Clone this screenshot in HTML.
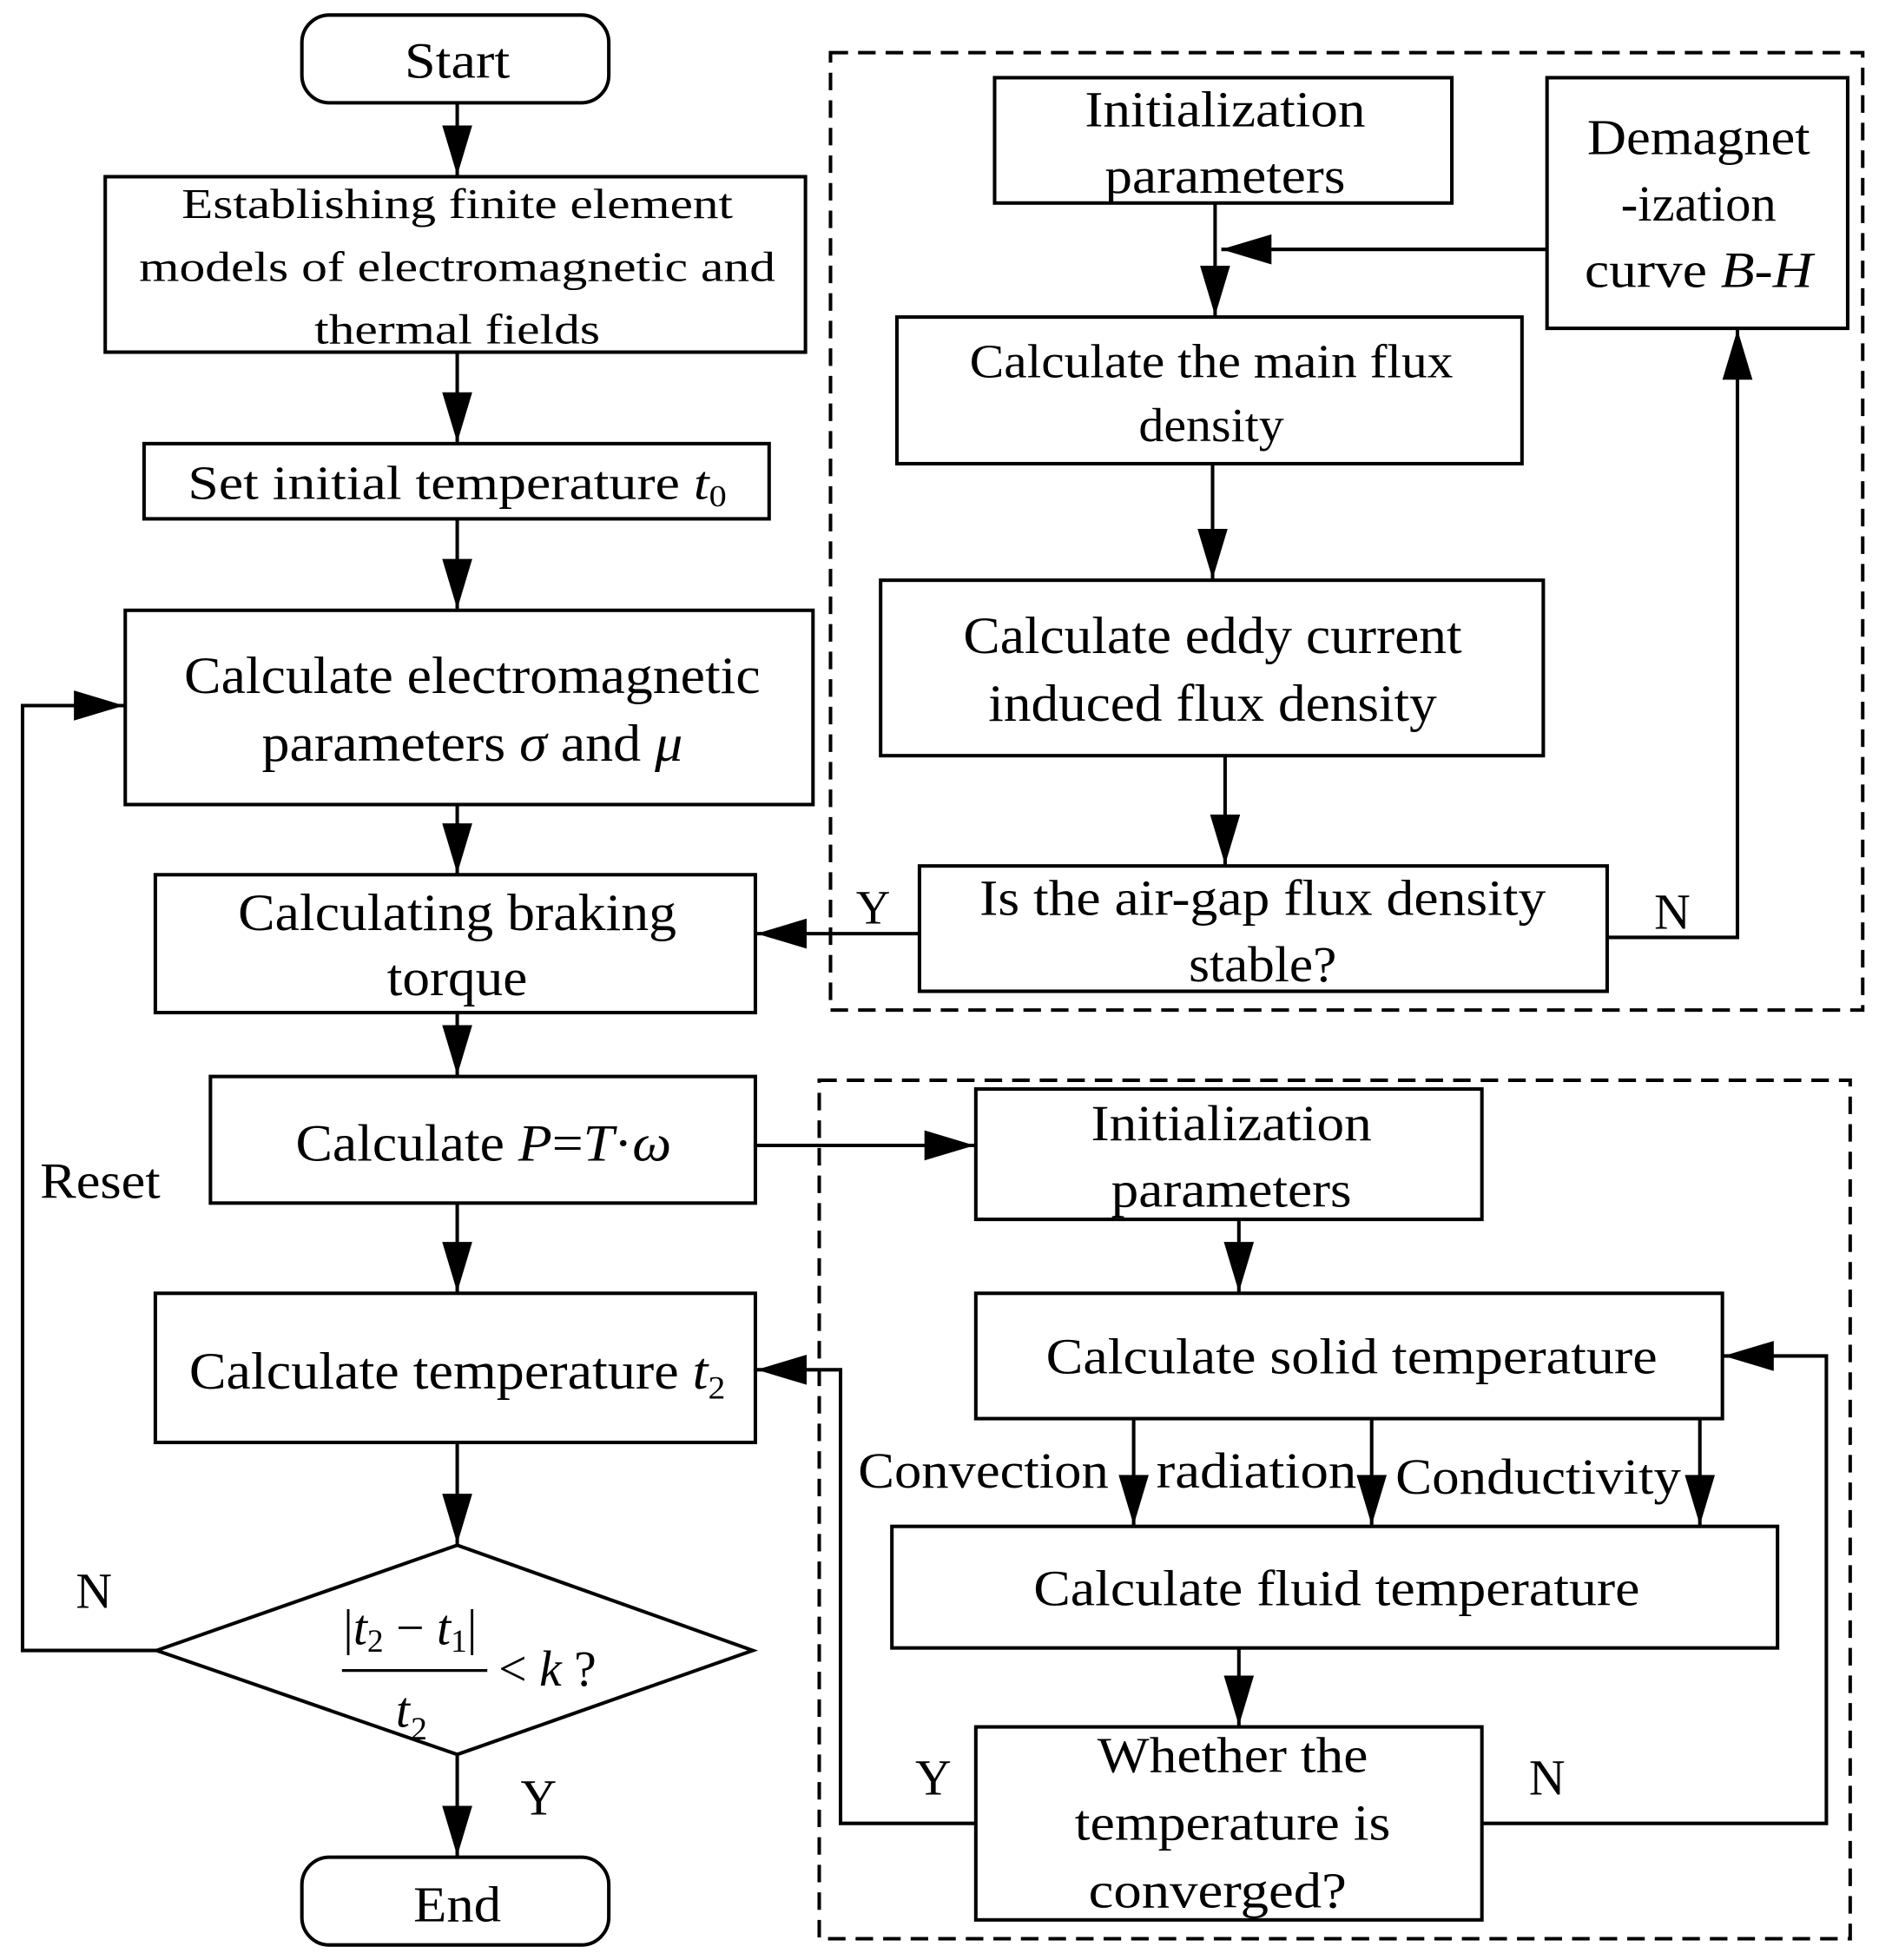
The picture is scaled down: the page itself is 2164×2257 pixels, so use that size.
<!DOCTYPE html>
<html><head><meta charset="utf-8"><style>html,body{margin:0;padding:0;background:#fff}svg{display:block}</style></head>
<body>
<svg width="2164" height="2257" viewBox="0 0 1500 1564" preserveAspectRatio="none" xmlns="http://www.w3.org/2000/svg" font-family="Liberation Serif, serif" fill="#000">
<defs>
<marker id="a" markerUnits="userSpaceOnUse" markerWidth="44" markerHeight="26" refX="40" refY="12" orient="auto"><path d="M0,0 L40,12 L0,24 z" fill="#000"/></marker>
</defs>
<g fill="none" stroke="#000" stroke-width="2.8">
<rect x="241" y="12" width="245" height="70" rx="22"/>
<rect x="84" y="141" width="559" height="140"/>
<rect x="115" y="354" width="499" height="60"/>
<rect x="100" y="487" width="549" height="155"/>
<rect x="124" y="698" width="479" height="110"/>
<rect x="168" y="859" width="435" height="101"/>
<rect x="124" y="1032" width="479" height="119"/>
<polygon points="365,1233 601,1317 365,1400 125,1317"/>
<rect x="241" y="1482" width="245" height="70" rx="22"/>
<rect x="663" y="42" width="824" height="764" stroke-dasharray="14,8"/>
<rect x="794" y="62" width="365" height="100"/>
<rect x="1235" y="62" width="240" height="200"/>
<rect x="716" y="253" width="499" height="117"/>
<rect x="703" y="463" width="529" height="140"/>
<rect x="734" y="691" width="549" height="100"/>
<rect x="654" y="862" width="823" height="685" stroke-dasharray="14,8"/>
<rect x="779" y="869" width="404" height="104"/>
<rect x="779" y="1032" width="596" height="100"/>
<rect x="712" y="1218" width="707" height="97"/>
<rect x="779" y="1378" width="404" height="154"/>
</g>
<g fill="none" stroke="#000" stroke-width="2.8" marker-end="url(#a)">
<path d="M365,82 V140"/>
<path d="M365,281 V353"/>
<path d="M365,414 V486"/>
<path d="M365,642 V697"/>
<path d="M365,808 V858"/>
<path d="M365,960 V1031"/>
<path d="M365,1151 V1232"/>
<path d="M365,1400 V1481"/>
<path d="M125,1317 H18 V563 H99"/>
<path d="M970,162 V252"/>
<path d="M1235,199 H975"/>
<path d="M968,370 V462"/>
<path d="M978,603 V690"/>
<path d="M734,745 H604"/>
<path d="M1283,748 H1387 V263"/>
<path d="M603,914 H778"/>
<path d="M989,973 V1031"/>
<path d="M905,1132 V1217"/>
<path d="M1095,1132 V1217"/>
<path d="M1357,1132 V1217"/>
<path d="M989,1315 V1377"/>
<path d="M779,1455 H671 V1093 H604"/>
<path d="M1183,1455 H1458 V1082 H1376"/>
</g>
<g font-size="36" text-anchor="middle">
<text x="365" y="62" font-size="40" textLength="84" lengthAdjust="spacingAndGlyphs">Start</text>
<text x="365" y="174" font-size="34" textLength="440" lengthAdjust="spacingAndGlyphs">Establishing finite element</text>
<text x="365" y="224" font-size="34" textLength="508" lengthAdjust="spacingAndGlyphs">models of electromagnetic and</text>
<text x="365" y="274" font-size="34" textLength="228" lengthAdjust="spacingAndGlyphs">thermal fields</text>
<text x="365" y="398" font-size="38" textLength="430" lengthAdjust="spacingAndGlyphs">Set initial temperature <tspan font-style="italic">t</tspan><tspan font-size="24" dy="6">0</tspan></text>
<text x="377" y="553" font-size="42" textLength="460" lengthAdjust="spacingAndGlyphs">Calculate electromagnetic</text>
<text x="377" y="607" font-size="42" textLength="336" lengthAdjust="spacingAndGlyphs">parameters <tspan font-style="italic">σ</tspan> and <tspan font-style="italic">μ</tspan></text>
<text x="365" y="742" font-size="42" textLength="350" lengthAdjust="spacingAndGlyphs">Calculating braking</text>
<text x="365" y="794" font-size="42" textLength="112" lengthAdjust="spacingAndGlyphs">torque</text>
<text x="386" y="926" font-size="42" textLength="300" lengthAdjust="spacingAndGlyphs">Calculate <tspan font-style="italic">P</tspan>=<tspan font-style="italic">T</tspan>·<tspan font-style="italic">ω</tspan></text>
<text x="365" y="1108" font-size="42" textLength="428" lengthAdjust="spacingAndGlyphs">Calculate temperature <tspan font-style="italic">t</tspan><tspan font-size="26" dy="8">2</tspan></text>
<text x="365" y="1533" font-size="40" textLength="70" lengthAdjust="spacingAndGlyphs">End</text>
<text x="978" y="101" font-size="40" textLength="224" lengthAdjust="spacingAndGlyphs">Initialization</text>
<text x="978" y="154" font-size="40" textLength="192" lengthAdjust="spacingAndGlyphs">parameters</text>
<text x="1356" y="123" font-size="40" textLength="178" lengthAdjust="spacingAndGlyphs">Demagnet</text>
<text x="1356" y="176" font-size="40" textLength="124" lengthAdjust="spacingAndGlyphs">-ization</text>
<text x="1356" y="229" font-size="40" textLength="182" lengthAdjust="spacingAndGlyphs">curve <tspan font-style="italic">B</tspan>-<tspan font-style="italic">H</tspan></text>
<text x="967" y="301" font-size="38" textLength="386" lengthAdjust="spacingAndGlyphs">Calculate the main flux</text>
<text x="967" y="352" font-size="38" textLength="116" lengthAdjust="spacingAndGlyphs">density</text>
<text x="968" y="521" font-size="42" textLength="398" lengthAdjust="spacingAndGlyphs">Calculate eddy current</text>
<text x="968" y="575" font-size="42" textLength="358" lengthAdjust="spacingAndGlyphs">induced flux density</text>
<text x="1008" y="730" font-size="40" textLength="452" lengthAdjust="spacingAndGlyphs">Is the air-gap flux density</text>
<text x="1008" y="783" font-size="40" textLength="118" lengthAdjust="spacingAndGlyphs">stable?</text>
<text x="697" y="737" font-size="38">Y</text>
<text x="1335" y="741" font-size="40">N</text>
<text x="80" y="956" font-size="40" textLength="96" lengthAdjust="spacingAndGlyphs">Reset</text>
<text x="75" y="1283" font-size="40">N</text>
<text x="430" y="1448" font-size="40">Y</text>
<text x="983" y="910" font-size="40" textLength="224" lengthAdjust="spacingAndGlyphs">Initialization</text>
<text x="983" y="963" font-size="40" textLength="192" lengthAdjust="spacingAndGlyphs">parameters</text>
<text x="1079" y="1096" font-size="40" textLength="488" lengthAdjust="spacingAndGlyphs">Calculate solid temperature</text>
<text x="785" y="1187" font-size="40" textLength="200" lengthAdjust="spacingAndGlyphs">Convection</text>
<text x="1003" y="1187" font-size="40" textLength="160" lengthAdjust="spacingAndGlyphs">radiation</text>
<text x="1228" y="1192" font-size="40" textLength="228" lengthAdjust="spacingAndGlyphs">Conductivity</text>
<text x="1067" y="1281" font-size="40" textLength="484" lengthAdjust="spacingAndGlyphs">Calculate fluid temperature</text>
<text x="984" y="1414" font-size="40" textLength="216" lengthAdjust="spacingAndGlyphs">Whether the</text>
<text x="984" y="1468" font-size="40" textLength="252" lengthAdjust="spacingAndGlyphs">temperature is</text>
<text x="972" y="1522" font-size="40" textLength="206" lengthAdjust="spacingAndGlyphs">converged?</text>
<text x="745" y="1432" font-size="40">Y</text>
<text x="1235" y="1432" font-size="40">N</text>
</g>
<g font-size="40">
<text x="274" y="1312">|<tspan font-style="italic">t</tspan><tspan font-size="26" dy="6">2</tspan><tspan dy="-6"> − </tspan><tspan font-style="italic">t</tspan><tspan font-size="26" dy="6">1</tspan><tspan dy="-6">|</tspan></text>
<line x1="273" y1="1333" x2="389" y2="1333" stroke="#000" stroke-width="2.2"/>
<text x="316" y="1378" font-style="italic">t</text><text x="328" y="1388" font-size="26">2</text>
<text x="398" y="1345">&lt; <tspan font-style="italic">k</tspan> ?</text>
</g>
</svg>
</body></html>
